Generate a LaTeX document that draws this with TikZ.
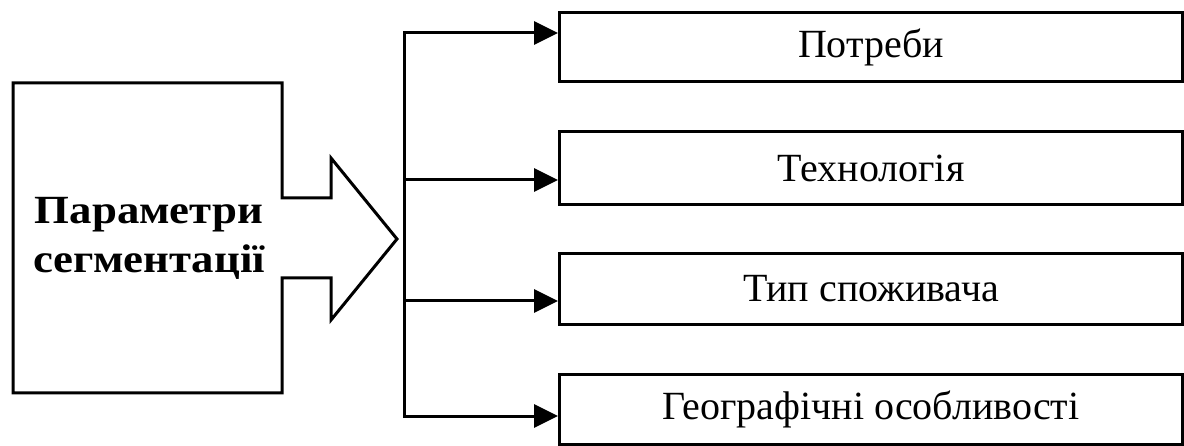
\documentclass[tikz,border=0pt]{standalone}
\usepackage{fontspec}
\setmainfont{Liberation Serif}
\newfontfamily\lftfont{Liberation Serif}[FakeStretch=1.12]
\usetikzlibrary{arrows.meta}
\begin{document}
\begin{tikzpicture}[x=1pt,y=-1pt,
  every path/.style={line width=3pt},
  itembox/.style={draw,line width=3pt,minimum width=623pt,anchor=north west,inner sep=0pt,font=\fontsize{40}{44}\selectfont},
  conn/.style={line width=3pt,-{Triangle[length=24pt,width=23pt]}},
  srcshape/.style={draw,line width=3pt,line join=miter}]
\useasboundingbox (0,0) rectangle (1184,446);
% source block-arrow
\draw[srcshape] (13,83) -- (282,83) -- (282,198) -- (331,198) -- (331,158) -- (397,239)
  -- (331,320) -- (331,278) -- (282,278) -- (282,393) -- (13,393) -- cycle;
\node[align=center,inner sep=0pt,font={\lftfont\bfseries\fontsize{40}{49}\selectfont}] (src) at (149,238)
  {Параметри\\сегментації};
% target boxes
\node[itembox,minimum height=69pt] (b1) at (558,11) {Потреби};
\node[itembox,minimum height=73pt] (b2) at (558,130) {Технологія};
\node[itembox,minimum height=71pt] (b3) at (558,252) {Тип споживача};
\node[itembox,minimum height=70pt] (b4) at (558,373) {Географічні особливості};
% trunk
\coordinate (j1) at (404,33);
\coordinate (j2) at (404,180);
\coordinate (j3) at (404,301);
\coordinate (j4) at (404,416);
\draw[line cap=rect] (j1) -- (j4);
\draw[conn] (j1) -- (j1 -| b1.west);
\draw[conn] (j2) -- (j2 -| b2.west);
\draw[conn] (j3) -- (j3 -| b3.west);
\draw[conn] (j4) -- (j4 -| b4.west);
\end{tikzpicture}
\end{document}
